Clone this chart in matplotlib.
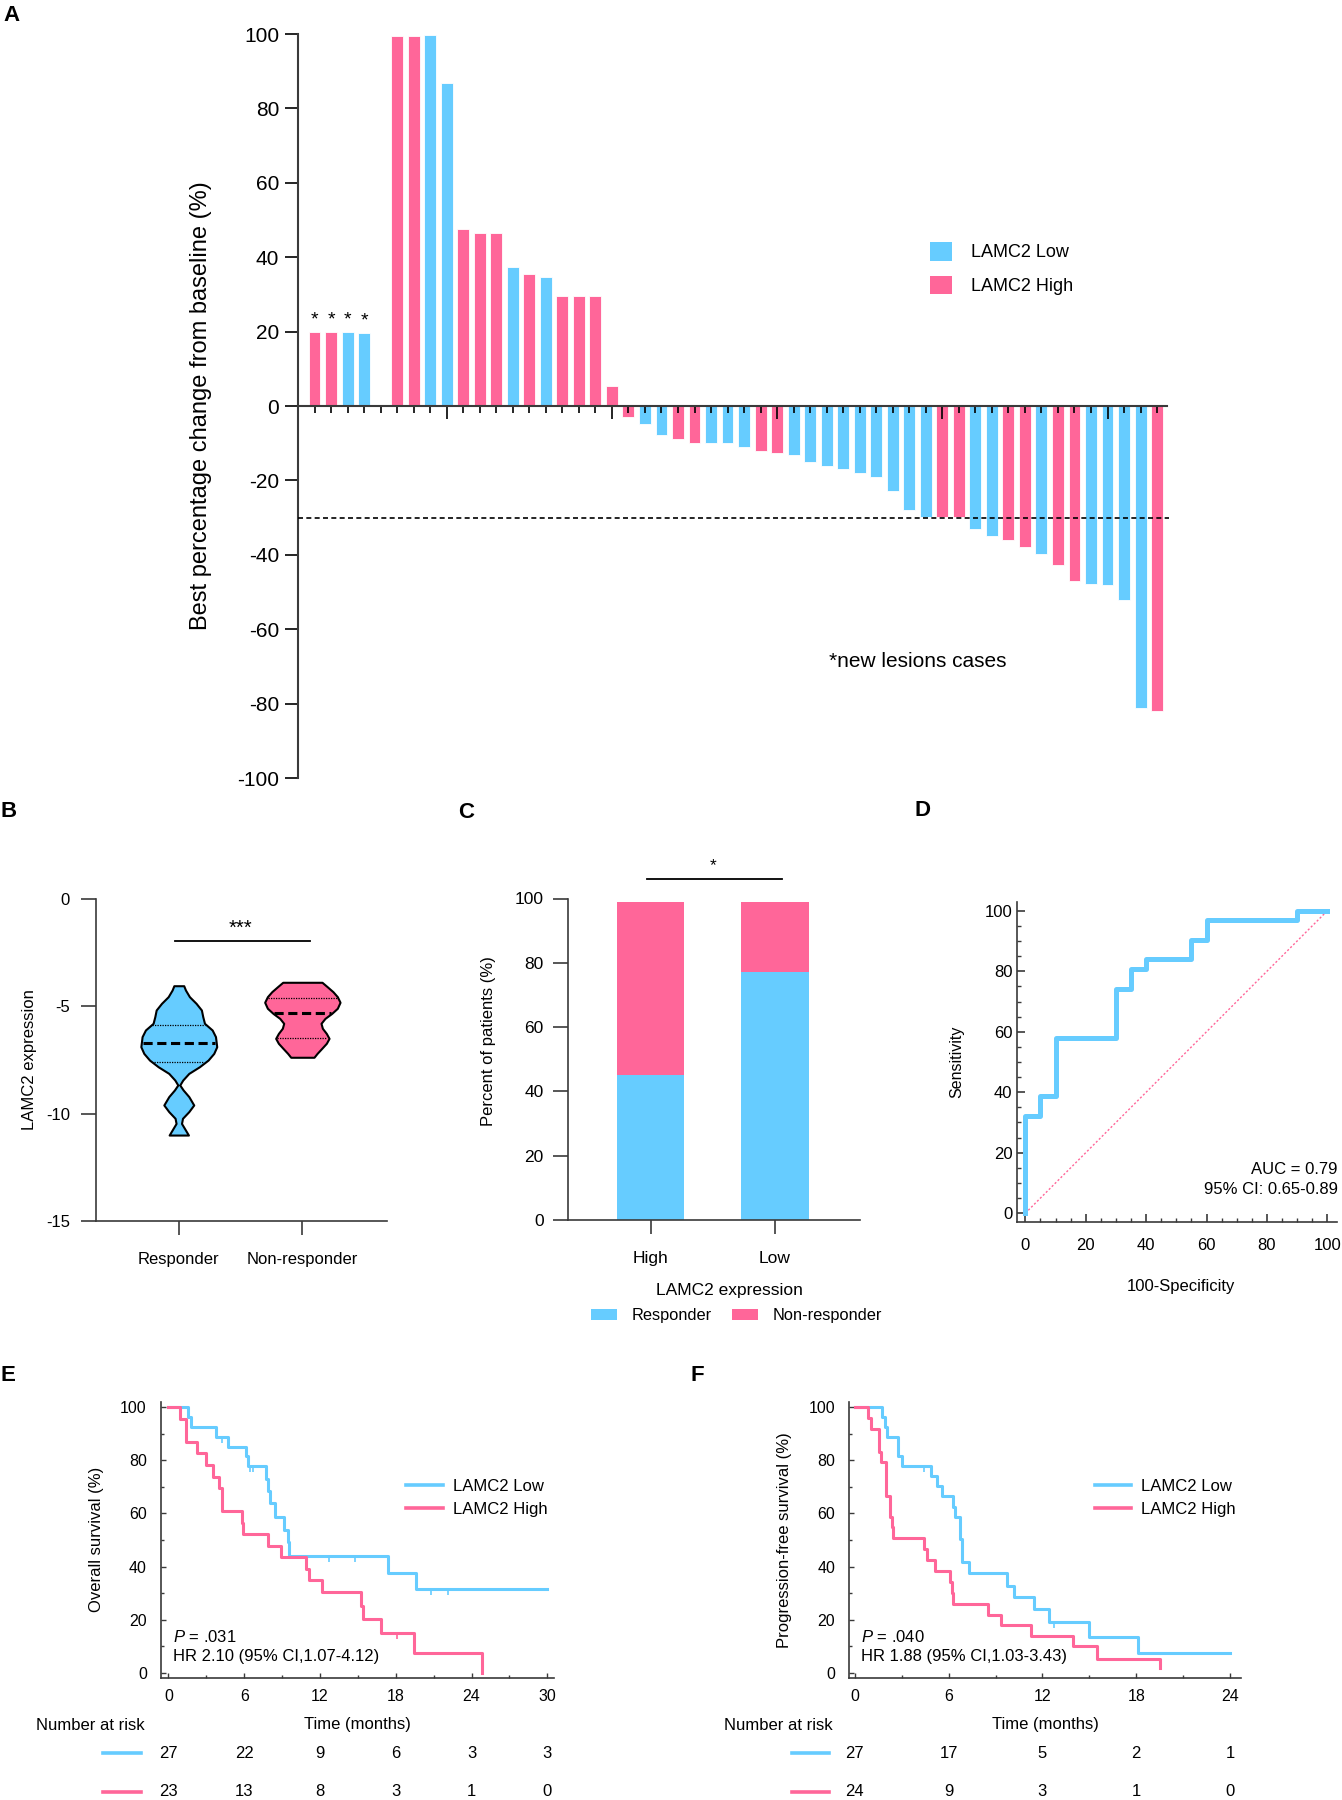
import numpy as np
import matplotlib
matplotlib.use('Agg')
import matplotlib.pyplot as plt
from matplotlib.patches import Patch
from matplotlib.lines import Line2D
import matplotlib.transforms as mtransforms

# ---------------------------------------------------------------- data
# Panel A: waterfall (best % change from baseline)
new_lesion_change = [20.0, 20.0, 19.9, 19.7]
new_lesion_group = ['High', 'High', 'Low', 'Low']
other_change = [99.5, 99.5, 99.8, 86.7, 47.5, 46.5, 46.5, 37.5, 35.4, 34.8,
                29.5, 29.5, 29.5, 5.4, -3.0, -4.9, -7.9, -9.0, -10.0, -10.0,
                -10.0, -11.0, -12.0, -12.5, -13.1, -15.1, -16.0, -17.0, -18.0, -19.0,
                -22.9, -28.0, -29.8, -29.8, -29.8, -33.1, -35.0, -35.9, -37.9, -39.8,
                -42.8, -47.1, -47.8, -48.0, -52.1, -81.2, -82.1]
other_group = ['High', 'High', 'Low', 'Low', 'High', 'High', 'High', 'Low', 'High', 'Low',
               'High', 'High', 'High', 'High', 'High', 'Low', 'Low', 'High', 'High', 'Low',
               'Low', 'Low', 'High', 'High', 'Low', 'Low', 'Low', 'Low', 'Low', 'Low',
               'Low', 'Low', 'Low', 'High', 'High', 'Low', 'Low', 'High', 'High', 'Low',
               'High', 'High', 'Low', 'Low', 'Low', 'Low', 'High']
pr_threshold = -30
a_yticks = [-100, -80, -60, -40, -20, 0, 20, 40, 60, 80, 100]

# Panel B: violin outlines (value, half-width in category units)
resp_profile_y = [-4.05, -4.25, -4.56, -4.87, -5.18, -5.49, -5.80, -6.11, -6.42, -6.89,
                  -7.20, -7.51, -7.82, -8.13, -8.44, -8.67, -8.90, -9.21, -9.60, -9.91,
                  -10.22, -10.46, -10.69, -11.00]
resp_profile_w = [0.040, 0.054, 0.086, 0.140, 0.183, 0.194, 0.208, 0.270, 0.297, 0.307,
                  0.283, 0.237, 0.167, 0.081, 0.032, 0.008, 0.035, 0.081, 0.121, 0.081,
                  0.030, 0.022, 0.046, 0.078]
nonresp_profile_y = [-3.89, -4.10, -4.33, -4.56, -4.82, -5.10, -5.34, -5.57, -5.80, -6.03,
                     -6.27, -6.50, -6.73, -6.97, -7.20, -7.38]
nonresp_profile_w = [0.159, 0.202, 0.248, 0.283, 0.305, 0.283, 0.237, 0.183, 0.151, 0.162,
                     0.194, 0.216, 0.194, 0.156, 0.119, 0.094]
resp_quartiles = [-5.88, -6.73, -7.62]       # Q3, median, Q1
nonresp_quartiles = [-4.61, -5.31, -6.47]
b_categories = ['Responder', 'Non-responder']
b_yticks = [0, -5, -10, -15]

# Panel C: stacked percentages
c_categories = ['High', 'Low']
c_responder = [45.0, 77.0]
c_nonresponder = [54.0, 22.0]

# Panel D: ROC
roc_fpr = [0, 0, 5, 10, 30, 35, 40, 55, 60, 90, 100]
roc_tpr = [0, 32.3, 38.7, 58.1, 74.2, 80.6, 83.9, 90.3, 96.8, 100, 100]

# Panel E: overall survival
os_low_t = [0, 1.58, 1.79, 3.77, 4.7, 6.15, 6.3, 7.73, 7.9, 8.05, 8.4, 9.16, 9.45, 9.58, 17.4, 19.58, 30]
os_low_s = [100, 96.3, 92.6, 88.9, 85.2, 81.5, 77.8, 72.9, 68.3, 63.8, 58.8, 53.8, 49.4, 44.1, 37.5, 31.5, 31.5]
os_low_cens = [4.27, 6.46, 6.73, 12.72, 14.78, 20.8, 22.1]
os_high_t = [0, 0.92, 1.4, 2.24, 2.98, 3.5, 4.04, 4.22, 5.8, 5.94, 7.92, 8.9, 10.87, 11.13, 12.19,
             15.25, 15.44, 16.83, 19.45, 24.8]
os_high_s = [100, 95.7, 87.0, 82.6, 78.3, 73.9, 69.6, 60.9, 56.5, 52.2, 47.8, 43.5, 39.1, 34.8, 30.4,
             25.3, 20.1, 15.1, 7.5, 0]
os_high_cens = [18.1]
os_xticks = [0, 6, 12, 18, 24, 30]
os_risk_low = [27, 22, 9, 6, 3, 3]
os_risk_high = [23, 13, 8, 3, 1, 0]

# Panel F: progression-free survival
pfs_low_t = [0, 1.72, 1.93, 2.08, 2.79, 3.04, 4.85, 5.24, 5.6, 6.3, 6.41, 6.73, 6.84, 7.3,
             9.71, 10.2, 11.48, 12.42, 15.0, 18.09, 24]
pfs_low_s = [100, 96.3, 92.6, 88.9, 81.5, 77.8, 74.1, 70.4, 66.7, 62.6, 58.8, 50.4, 41.8, 37.4,
             32.8, 28.6, 24.0, 19.2, 13.6, 7.5, 7.5]
pfs_low_cens = [4.43, 12.76]
pfs_high_t = [0, 0.87, 1.02, 1.57, 1.68, 1.97, 2.25, 2.36, 2.47, 4.45, 4.6, 5.13, 6.09, 6.2, 6.3,
              8.5, 9.35, 11.25, 13.98, 15.47, 19.52]
pfs_high_s = [100, 95.8, 91.7, 83.3, 79.2, 66.7, 58.8, 55.0, 50.9, 46.6, 42.5, 38.4, 34.0, 29.9, 25.9,
              21.7, 17.9, 13.9, 10.2, 5.2, 1.6]
pfs_xticks = [0, 6, 12, 18, 24]
pfs_risk_low = [27, 17, 5, 2, 1]
pfs_risk_high = [24, 9, 3, 1, 0]

# ---------------------------------------------------------------- style
W, H = 1342, 1800
BLUE = '#66CCFF'
PINK = '#FF6699'
SPINE = '#3a3a3a'
MAIN = 'Liberation Sans'

plt.rcParams['font.family'] = [MAIN, 'DejaVu Sans']
plt.rcParams['axes.unicode_minus'] = False
plt.rcParams['mathtext.fontset'] = 'custom'
plt.rcParams['mathtext.it'] = MAIN + ':italic'
plt.rcParams['mathtext.rm'] = MAIN

fig = plt.figure(figsize=(W / 100, H / 100), dpi=100)


def add_ax(l, t, r, b):
    return fig.add_axes([l / W, 1 - b / H, (r - l) / W, (b - t) / H])


def place_ylabel(ax, px, py=None):
    pos = ax.get_position()
    y = 0.5 if py is None else ((1 - py / H) - pos.y0) / pos.height
    ax.yaxis.set_label_coords((px / W - pos.x0) / pos.width, y)
    ax.yaxis.label.set_va('center')


def place_xlabel(ax, py, px=None):
    pos = ax.get_position()
    x = 0.5 if px is None else (px / W - pos.x0) / pos.width
    ax.xaxis.set_label_coords(x, ((1 - py / H) - pos.y0) / pos.height)
    ax.xaxis.label.set_va('center')


def style_spines(ax, lw=1.2):
    for s in ['top', 'right']:
        ax.spines[s].set_visible(False)
    for s in ['left', 'bottom']:
        ax.spines[s].set_color(SPINE)
        ax.spines[s].set_linewidth(lw)


def letter(px, py, s):
    fig.text(px / W, 1 - py / H, s, fontsize=16, fontweight='bold', va='baseline', ha='left')


# ---------------------------------------------------------------- Panel A
axA = add_ax(298, 34, 1167, 778)
n_new = len(new_lesion_change)
x_new = np.arange(1, n_new + 1)
x_other = np.arange(n_new + 2, n_new + 2 + len(other_change))
xs = np.concatenate([x_new, x_other])
vals = list(new_lesion_change) + list(other_change)
grps = list(new_lesion_group) + list(other_group)
cols = [BLUE if g == 'Low' else PINK for g in grps]
axA.bar(xs, vals, width=0.72, color=cols, edgecolor='white', linewidth=0.6, zorder=1)
axA.set_xlim(0, xs.max() + 0.6)
axA.set_ylim(-100, 100)
style_spines(axA, 1.5)
axA.spines['bottom'].set_position(('data', 0))
slots = np.arange(1, xs.max() + 1)
major_slots = [s for s in slots if s % 10 == 9]
axA.set_xticks(major_slots)
axA.set_xticks([s for s in slots if s not in major_slots], minor=True)
axA.tick_params(axis='x', which='major', length=9.5, width=1.2, labelbottom=False, color='black')
axA.tick_params(axis='x', which='minor', length=5, width=1.2, color='black')
axA.set_yticks(a_yticks)
axA.set_yticklabels([str(v) for v in a_yticks])
axA.tick_params(axis='y', length=9.5, width=1.2, labelsize=15, pad=4, color='black')
axA.set_ylabel('Best percentage change from baseline (%)', fontsize=17)
place_ylabel(axA, 201)
axA.plot([0, xs.max() + 0.7], [pr_threshold, pr_threshold], ls=(0, (3, 2)), color='black',
         lw=1.2, clip_on=False, zorder=3)
for x, v in zip(x_new, new_lesion_change):
    axA.text(x, v + 3.2, '*', ha='center', va='center', fontsize=14)
axA.legend(handles=[Patch(facecolor=BLUE, label='LAMC2 Low'),
                    Patch(facecolor=PINK, label='LAMC2 High')],
           loc='upper left', bbox_to_anchor=((930 - 298) / 869, 1 - (242 - 34) / 744),
           frameon=False, fontsize=13, handlelength=1.2, handleheight=1.2,
           handletextpad=1.05, labelspacing=0.8, borderpad=0, borderaxespad=0)
axA.text((829 - 298) / 869, 1 - (661 - 34) / 744, '*new lesions cases', transform=axA.transAxes,
         ha='left', va='center', fontsize=15)
letter(3, 21, 'A')

# ---------------------------------------------------------------- Panel B
axB = add_ax(96, 898.7, 387, 1221)
profiles = [(resp_profile_y, resp_profile_w, BLUE, resp_quartiles),
            (nonresp_profile_y, nonresp_profile_w, PINK, nonresp_quartiles)]
for i, (py_, pw_, col, qs) in enumerate(profiles):
    py_ = np.asarray(py_)
    pw_ = np.asarray(pw_)
    axB.fill_betweenx(py_, i - pw_, i + pw_, facecolor=col, edgecolor='black', lw=1.5, zorder=2)
    for k, q in enumerate(qs):
        w = np.interp(q, py_[::-1], pw_[::-1]) - 0.01
        if k == 1:
            axB.plot([i - w, i + w], [q, q], color='black', lw=2.2, ls=(0, (3, 1.5)), zorder=3)
        else:
            axB.plot([i - w, i + w], [q, q], color='black', lw=0.9, ls=(0, (1, 1)), zorder=3)
axB.set_xlim(-0.67, 1.685)
axB.set_ylim(-15, 0)
style_spines(axB, 1.2)
axB.set_xticks([0, 1])
axB.set_xticklabels(b_categories)
axB.set_yticks(b_yticks)
axB.set_yticklabels([str(v) for v in b_yticks])
axB.tick_params(axis='x', length=10, width=1.2, labelsize=12, pad=12, color=SPINE)
axB.tick_params(axis='y', length=10.8, width=1.2, labelsize=12, pad=8, color=SPINE)
axB.set_ylabel('LAMC2 expression', fontsize=12)
place_ylabel(axB, 30)
axB.plot([-0.027, 1.063], [-1.99, -1.99], color='black', lw=1.3)
axB.text(0.5, -1.36, '***', ha='center', va='center', fontsize=14.5)
letter(0, 817, 'B')

# ---------------------------------------------------------------- Panel C
axC = add_ax(568.3, 898.5, 860, 1220.1)
xc = np.arange(len(c_categories))
axC.bar(xc, c_responder, width=0.54, color=BLUE, zorder=1)
axC.bar(xc, c_nonresponder, width=0.54, bottom=c_responder, color=PINK, zorder=1)
axC.set_xlim(-0.663, 1.684)
axC.set_ylim(0, 100)
style_spines(axC, 1.2)
axC.set_xticks(xc)
axC.set_xticklabels(c_categories)
axC.set_yticks([0, 20, 40, 60, 80, 100])
axC.tick_params(axis='x', length=10.2, width=1.2, labelsize=12.5, pad=12, color=SPINE)
axC.tick_params(axis='y', length=10.8, width=1.2, labelsize=12.5, pad=7, color=SPINE)
axC.set_ylabel('Percent of patients (%)', fontsize=12)
place_ylabel(axC, 488.3, 1041.4)
axC.set_xlabel('LAMC2 expression', fontsize=12.5)
place_xlabel(axC, 1291, 729.3)
axC.plot([-0.027, 1.059], [106.2, 106.2], color='black', lw=1.3, clip_on=False)
axC.text(0.5, 110.1, '*', ha='center', va='center', fontsize=12.5)
fig.legend(handles=[Patch(facecolor=BLUE, label='Responder'),
                    Patch(facecolor=PINK, label='Non-responder')],
           loc='center left', bbox_to_anchor=(590.7 / W, 1 - 1315.5 / H), ncol=2,
           frameon=False, fontsize=11.8, handlelength=1.6, handleheight=0.66,
           handletextpad=0.88, columnspacing=1.25, borderpad=0, borderaxespad=0)
letter(458, 818, 'C')

# ---------------------------------------------------------------- Panel D
axD = add_ax(1016.7, 901.7, 1336.7, 1222.3)
axD.plot([0, 100], [0, 100], ls=(0, (1.5, 1.5)), color=PINK, lw=1.0, zorder=1)
axD.step(roc_fpr, roc_tpr, where='post', color=BLUE, lw=3.6, zorder=2)
axD.set_xlim(-2.85, 103.1)
axD.set_ylim(-3, 103)
style_spines(axD, 1.2)
axD.set_xticks(np.arange(0, 101, 20))
axD.set_yticks(np.arange(0, 101, 20))
axD.set_xticks(np.arange(0, 101, 5), minor=True)
axD.set_yticks(np.arange(0, 101, 5), minor=True)
axD.tick_params(which='major', direction='in', length=6, width=1.2, labelsize=12, color=SPINE)
axD.tick_params(which='minor', direction='in', length=3, width=1.0, color=SPINE)
axD.tick_params(axis='y', pad=3)
axD.tick_params(axis='x', pad=11)
axD.set_ylabel('Sensitivity', fontsize=11.5)
place_ylabel(axD, 956.7)
axD.set_xlabel('100-Specificity', fontsize=12)
place_xlabel(axD, 1286.7, 1180.7)
axD.text(103.4, 14.5, 'AUC = 0.79', ha='right', va='center', fontsize=12, clip_on=False)
axD.text(103.4, 7.9, '95% CI: 0.65-0.89', ha='right', va='center', fontsize=12, clip_on=False)
letter(915, 816, 'D')


# ---------------------------------------------------------------- Panels E, F
def step_value(times, surv, t):
    idx = np.searchsorted(np.asarray(times), t, side='right') - 1
    return np.asarray(surv)[idx]


def km_panel(box, xlim, xticks, low_t, low_s, low_c, high_t, high_s, high_c,
             ylabel, ylabel_px, ptext, hrtext, text_x, leg_x, risk_low, risk_high,
             risk_line, nar_cx, letter_xy, letter_s):
    ax = add_ax(*box)
    for t, s, c, col in [(low_t, low_s, low_c, BLUE), (high_t, high_s, high_c, PINK)]:
        ax.step(t, s, where='post', color=col, lw=2.2, zorder=2)
        if len(c):
            ax.plot(c, step_value(t, s, c), ls='none', marker=3, ms=4.5, mew=1.2, color=col, zorder=2)
    ax.set_xlim(*xlim)
    ax.set_ylim(-1.88, 102.1)
    style_spines(ax, 1.2)
    ax.set_xticks(xticks)
    ax.set_xticks(np.arange(xticks[0] + 3, xticks[-1], 6), minor=True)
    ax.set_yticks(np.arange(0, 101, 20))
    ax.set_yticks(np.arange(10, 100, 20), minor=True)
    ax.tick_params(which='major', direction='in', length=3.5, width=1.0, labelsize=11.5, color=SPINE)
    ax.tick_params(which='minor', direction='in', length=2, width=1.0, color=SPINE)
    ax.tick_params(axis='y', pad=10)
    ax.tick_params(axis='x', pad=8)
    ax.set_ylabel(ylabel, fontsize=12)
    place_ylabel(ax, ylabel_px)
    ax.set_xlabel('Time (months)', fontsize=12)
    place_xlabel(ax, 1725)
    ax.text(text_x, 13.6, ptext, fontsize=12, va='center', ha='left')
    ax.text(text_x, 6.0, hrtext, fontsize=12, va='center', ha='left')
    ax.legend(handles=[Line2D([], [], color=BLUE, lw=2.6, label='LAMC2 Low'),
                       Line2D([], [], color=PINK, lw=2.6, label='LAMC2 High')],
              loc='center left', bbox_to_anchor=(leg_x, 0.652), frameon=False,
              fontsize=12, handlelength=2.2, handletextpad=0.6, labelspacing=0.5,
              borderpad=0, borderaxespad=0)
    tr = mtransforms.blended_transform_factory(ax.transData, fig.transFigure)
    for row_y, nums, col in [(1753.3, risk_low, BLUE), (1791.5, risk_high, PINK)]:
        for t, n in zip(xticks, nums):
            fig.text(t, 1 - row_y / H, str(n), transform=tr, ha='center', va='center', fontsize=12)
        fig.add_artist(Line2D([risk_line[0] / W, risk_line[1] / W], [1 - row_y / H] * 2,
                              transform=fig.transFigure, color=col, lw=2.6))
    fig.text(nar_cx / W, 1 - 1725 / H, 'Number at risk', ha='center', va='center', fontsize=12)
    letter(letter_xy[0], letter_xy[1], letter_s)
    return ax


axE = km_panel((160.7, 1401.7, 553.8, 1677.7), (-0.61, 30.51), os_xticks,
               os_low_t, os_low_s, os_low_cens, os_high_t, os_high_s, os_high_cens,
               'Overall survival (%)', 96.4, r'$P$ = .031', 'HR 2.10 (95% CI,1.07-4.12)', 0.36,
               (406.4 - 160.7) / 393.1, os_risk_low, os_risk_high, (103.3, 140.8), 90,
               (1, 1381), 'E')
axF = km_panel((848.9, 1401.7, 1241.4, 1677.7), (-0.38, 24.73), pfs_xticks,
               pfs_low_t, pfs_low_s, pfs_low_cens, pfs_high_t, pfs_high_s, [],
               'Progression-free survival (%)', 784.7, r'$P$ = .040', 'HR 1.88 (95% CI,1.03-3.43)', 0.38,
               (1094.5 - 848.9) / 392.5, pfs_risk_low, pfs_risk_high, (791.9, 828.6), 778.2,
               (690.6, 1381), 'F')

fig.savefig('out.png', dpi=100)
